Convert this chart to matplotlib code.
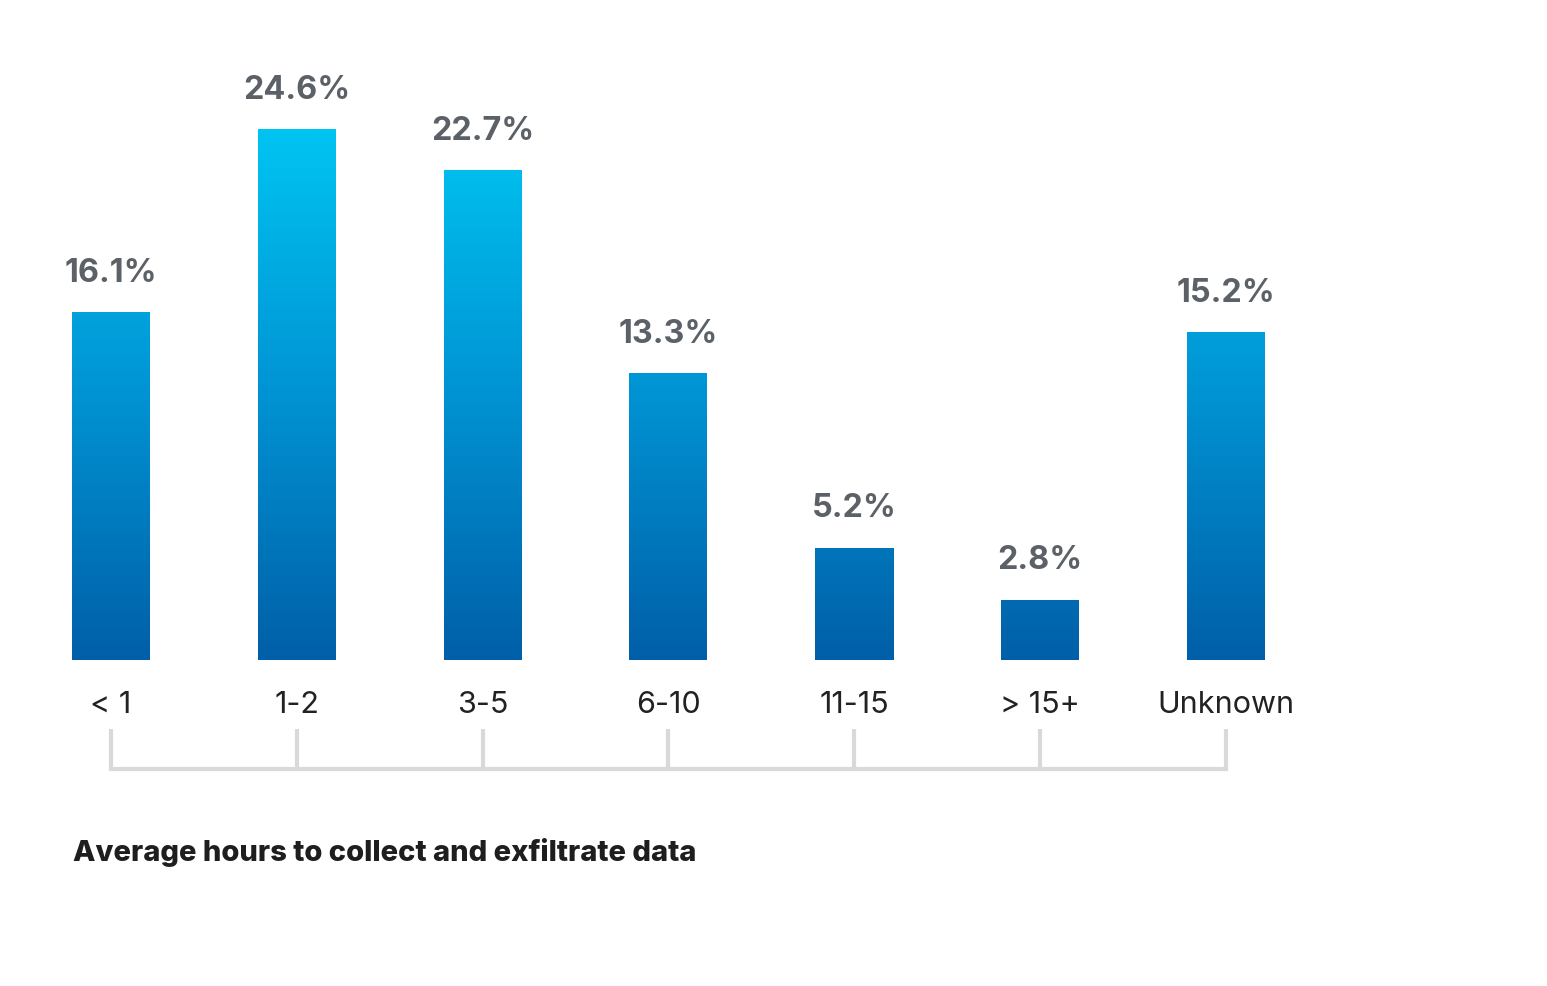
import matplotlib

matplotlib.use("Agg")
import matplotlib.pyplot as plt
import numpy as np
from matplotlib.colors import LinearSegmentedColormap

categories = ["< 1", "1-2", "3-5", "6-10", "11-15", "> 15+", "Unknown"]
shares = [16.1, 24.6, 22.7, 13.3, 5.2, 2.8, 15.2]
title = "Average hours to collect and exfiltrate data"

W, H = 1547, 987
fig = plt.figure(figsize=(W / 100, H / 100), dpi=100)
ax = fig.add_axes([0, 0, 1, 1])
ax.set_axis_off()

# pixel mapping: category spacing ~185.8 px, 21.585 px per percent
step_px, unit_px = 185.83, 21.585
x0_px, base_px = 111, 661
ax.set_xlim(-x0_px / step_px, (W - x0_px) / step_px)
ax.set_ylim(-(H - base_px) / unit_px, base_px / unit_px)

grad = LinearSegmentedColormap.from_list("blu", ["#005FA8", "#0093D3", "#00C4F2"])
top = max(shares)
bar_w = 78 / step_px
bars = ax.bar(range(len(shares)), shares, width=bar_w, color="none", edgecolor="none")
ramp = np.linspace(0, 1, 256).reshape(-1, 1)
for b in bars:
    im = ax.imshow(ramp, cmap=grad, aspect="auto", origin="lower",
                   extent=[-1, 8, 0, top], zorder=2)
    im.set_clip_path(b)

for i, (cat, v) in enumerate(zip(categories, shares)):
    ax.text(i, v + 1.45, f"{v}%", ha="center", va="baseline", fontsize=23.3,
            fontweight="bold", color="#5B6167", family=["Inter", "DejaVu Sans"])
    ax.text(i, -2.05, cat, ha="center", va="center", fontsize=22,
            color="#222222", family=["Inter", "DejaVu Sans"])

# bracket under the labels
y_top, y_bot = -69 / unit_px, -109 / unit_px
for i in range(len(categories)):
    ax.plot([i, i], [y_top, y_bot], color="#D9D9D9", lw=3, solid_capstyle="butt")
ax.plot([0, len(categories) - 1], [y_bot, y_bot], color="#D9D9D9", lw=3,
        solid_capstyle="projecting")

fig.text(73 / W, 1 - 853 / H, title, ha="left", va="center", fontsize=21,
         fontweight="heavy", color="#1E1E1E", family=["Inter", "DejaVu Sans"])

fig.savefig("out.png", dpi=100)
